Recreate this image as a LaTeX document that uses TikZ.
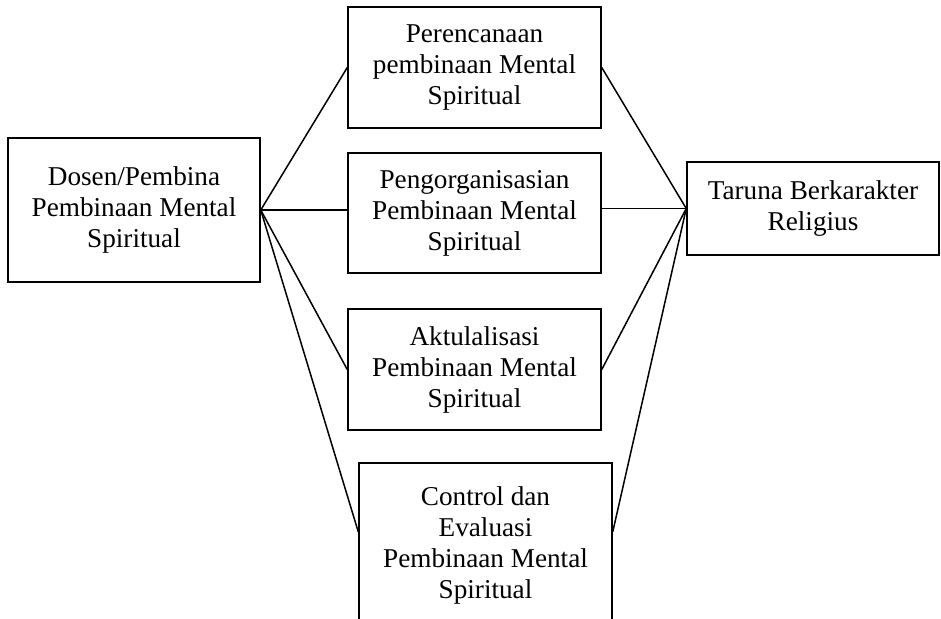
\documentclass[tikz,border=0pt]{standalone}
\usepackage{fontspec}
\setmainfont{Liberation Serif}
\usetikzlibrary{calc}

\begin{document}
\begin{tikzpicture}[x=0.5pt,y=-0.5pt,
    kBox/.style={draw=black,line width=0.75pt,align=center,inner sep=2pt,
                 font=\fontsize{13.6}{15.5}\selectfont},
    kLink/.style={draw=black,line width=0.75pt}]

  % frame
  \useasboundingbox (0,0) rectangle (941,618);
  \clip (0,0) rectangle (941,618);

  % boxes
  \node[kBox,minimum width=126pt,minimum height=72pt] (dosen) at (134,210)
       {Dosen/Pembina\\Pembinaan Mental\\Spiritual};

  \node[kBox,minimum width=126.5pt,minimum height=60.5pt] (plan) at (474.5,67.5)
       {Perencanaan\\pembinaan Mental\\Spiritual};
  \node[kBox,minimum width=126.5pt,minimum height=60pt] (org) at (474.5,213)
       {Pengorganisasian\\Pembinaan Mental\\Spiritual};
  \node[kBox,minimum width=126.5pt,minimum height=60.5pt] (akt) at (474.5,369.5)
       {Aktulalisasi\\Pembinaan Mental\\Spiritual};
  \node[kBox,minimum width=126.5pt,minimum height=82pt] (ctrl) at (485.5,545)
       {Control dan\\Evaluasi\\Pembinaan Mental\\Spiritual};

  \node[kBox,minimum width=126pt,minimum height=46.5pt] (taruna) at (813,208.5)
       {Taruna Berkarakter\\Religius};

  % links - left side
  \draw[kLink] (dosen.east) -- (plan.west);
  \draw[kLink] (dosen.east) -- (dosen.east -| org.west);
  \draw[kLink] (dosen.east) -- (akt.west);
  \draw[kLink] (dosen.east) -- ($(ctrl.north west)!0.42!(ctrl.south west)$);

  % links - right side
  \draw[kLink] (plan.east) -- (taruna.west);
  \draw[kLink] (org.east |- taruna.west) -- (taruna.west);
  \draw[kLink] (akt.east) -- (taruna.west);
  \draw[kLink] ($(ctrl.north east)!0.42!(ctrl.south east)$) -- (taruna.west);

\end{tikzpicture}
\end{document}
